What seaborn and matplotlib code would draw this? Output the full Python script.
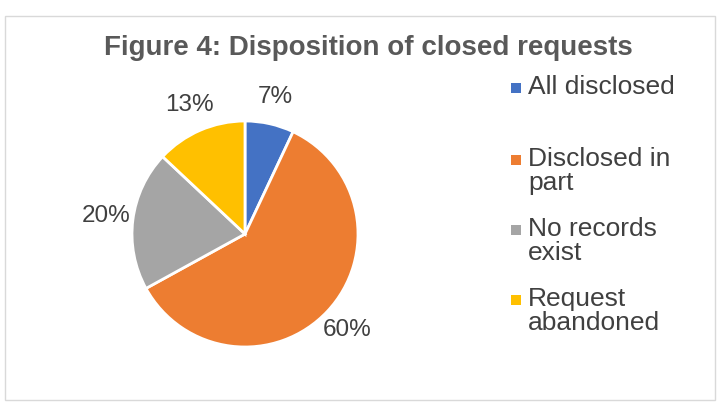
import matplotlib
matplotlib.use("Agg")
import matplotlib.pyplot as plt
import seaborn as sns
from matplotlib.patches import Rectangle

categories = ["All disclosed", "Disclosed in\npart", "No records\nexist", "Request\nabandoned"]
values = [7, 60, 20, 13]
colors = ["#4472C4", "#ED7D31", "#A5A5A5", "#FFC000"]
legend_y = [88, 160, 230, 300]

sns.set_theme(style="white")
plt.rcParams['font.family'] = ['Liberation Sans', 'DejaVu Sans']

W, H = 727, 416
fig = plt.figure(figsize=(W/100, H/100), dpi=100)
fig.patches.append(Rectangle((5/W, 16/H), 710/W, 384/H, transform=fig.transFigure,
                             fill=False, edgecolor="#D9D9D9", linewidth=1))
fig.text(368/W, 1 - 48/H, "Figure 4: Disposition of closed requests", ha="center", va="center",
         fontsize=20, fontweight="bold", color="#595959")

ax = fig.add_axes([132/W, (H-234-113)/H, 226/W, 226/H])
ax.pie(values, colors=colors, startangle=90, counterclock=False,
       autopct=lambda p: f"{p:.0f}%", pctdistance=1.24,
       wedgeprops=dict(edgecolor="white", linewidth=2),
       textprops=dict(fontsize=17.5, color="#404040"))
ax.set_aspect("equal")
ax.set_xlim(-1, 1); ax.set_ylim(-1, 1)

for cat, c, y in zip(categories, colors, legend_y):
    fig.patches.append(Rectangle((511/W, 1 - (y + 5)/H), 10/W, 10/H, transform=fig.transFigure,
                                 facecolor=c, edgecolor="none"))
    fig.text(528/W, 1 - (y - 13)/H, cat, ha="left", va="top", fontsize=19,
             color="#404040", linespacing=1.0)
fig.savefig("out.png", dpi=100)
